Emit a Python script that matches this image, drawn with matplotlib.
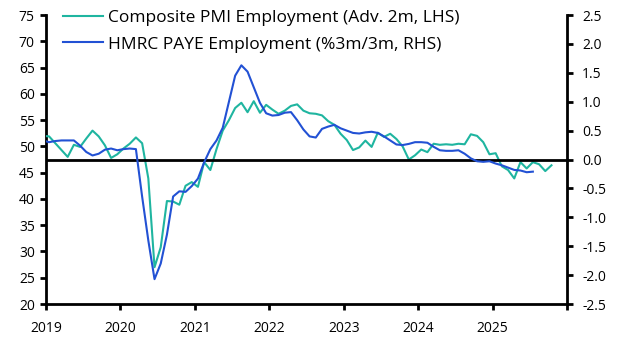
import numpy as np
import matplotlib
matplotlib.use('Agg')
import matplotlib.pyplot as plt

plt.rcParams['font.family'] = ['Open Sans', 'DejaVu Sans']

# monthly data, first value = Dec 2018
pmi_emp = [52.0, 51.9, 50.6, 49.3, 48.0, 50.3, 49.9, 51.5, 53.0, 51.9, 50.2, 47.8,
           48.5, 49.6, 50.5, 51.7, 50.6, 43.9, 27.0, 30.8, 39.6, 39.5, 38.9, 42.5,
           43.2, 42.3, 47.0, 45.5, 49.5, 53.0, 55.0, 57.3, 58.3, 56.5, 58.6, 56.4,
           57.9, 57.0, 56.2, 56.8, 57.7, 58.0, 56.8, 56.3, 56.2, 55.9, 54.8, 54.1,
           52.4, 51.2, 49.3, 49.8, 51.1, 49.9, 52.6, 51.8, 52.4, 51.4, 50.0, 47.5,
           48.3, 49.4, 48.9, 50.5, 50.3, 50.4, 50.3, 50.5, 50.4, 52.3, 52.0, 50.8,
           48.5, 48.7, 46.2, 45.5, 43.9, 47.0, 45.8, 47.0, 46.6, 45.3, 46.4]
paye_emp = [0.33, 0.30, 0.32, 0.33, 0.33, 0.33, 0.24, 0.13, 0.07, 0.10, 0.17, 0.19,
            0.16, 0.18, 0.19, 0.18, -0.64, -1.40, -2.07, -1.80, -1.30, -0.64, -0.55, -0.56,
            -0.46, -0.33, -0.05, 0.18, 0.33, 0.55, 1.00, 1.45, 1.63, 1.52, 1.25, 0.98,
            0.80, 0.76, 0.77, 0.81, 0.82, 0.68, 0.52, 0.40, 0.38, 0.53, 0.57, 0.60,
            0.54, 0.50, 0.46, 0.45, 0.47, 0.48, 0.46, 0.40, 0.33, 0.26, 0.25, 0.27,
            0.30, 0.30, 0.29, 0.22, 0.16, 0.15, 0.15, 0.16, 0.10, 0.02, -0.03, -0.04,
            -0.03, -0.07, -0.10, -0.14, -0.18, -0.19, -0.22, -0.21]
years = [2019, 2020, 2021, 2022, 2023, 2024, 2025, 2026]
year_labels = ['2019', '2020', '2021', '2022', '2023', '2024', '2025', '']

teal = '#1fb5a0'
blue = '#2251d4'

# mid-month positions, starting Dec 2018
x_pmi = 2019 + (np.arange(len(pmi_emp)) - 0.5) / 12
x_paye = 2019 + (np.arange(len(paye_emp)) - 0.5) / 12

fig = plt.figure(figsize=(6.29, 3.54), dpi=100)
ax = fig.add_axes([0.0731, 0.1412, 0.8283, 0.8164])
ax2 = ax.twinx()

ax2.axhline(0, color='black', lw=2, zorder=1)
l1, = ax.plot(x_pmi, pmi_emp, color=teal, lw=1.5, zorder=3)
l2, = ax2.plot(x_paye, paye_emp, color=blue, lw=1.5, zorder=3)

ax.set_xlim(2019, 2026)
ax.set_ylim(20, 75)
ax2.set_ylim(-2.5, 2.5)
ax.set_yticks(np.arange(20, 76, 5))
ax2.set_yticks(np.arange(-2.5, 2.51, 0.5))
ax2.set_yticklabels(['%.1f' % v for v in np.arange(-2.5, 2.51, 0.5)])
ax.set_xticks(years)
ax.set_xticklabels(year_labels)

for a in (ax, ax2):
    a.spines['top'].set_visible(False)
    for s in ('left', 'right', 'bottom'):
        a.spines[s].set_linewidth(2)
    a.tick_params(width=2, length=4, labelsize=10, colors='black', pad=4)
ax.spines['right'].set_visible(False)
ax2.spines['left'].set_visible(False)
ax2.spines['bottom'].set_visible(False)
ax.tick_params(axis='x', pad=8)
ax2.tick_params(axis='y', pad=7)

leg = ax2.legend([l1, l2], ['Composite PMI Employment (Adv. 2m, LHS)',
                            'HMRC PAYE Employment (%3m/3m, RHS)'],
                 loc='upper left', bbox_to_anchor=(0.02, 1.042), frameon=False,
                 fontsize=12.5, handlelength=2.3, handletextpad=0.3,
                 labelspacing=0.6, borderaxespad=0)

fig.savefig('out.png', dpi=100)
